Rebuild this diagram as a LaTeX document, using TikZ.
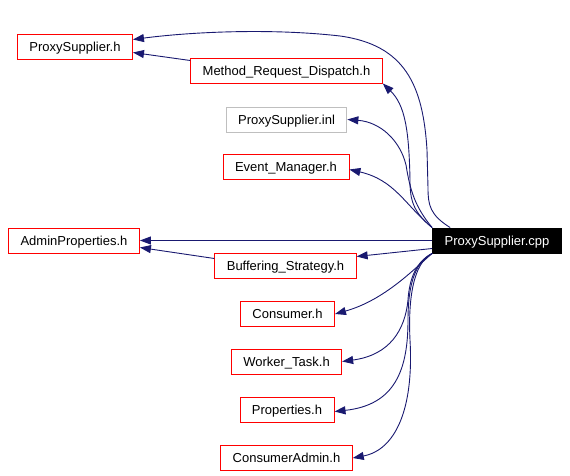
\documentclass[tikz,border=0pt]{standalone}
\usepackage{fontspec}
\setmainfont{Liberation Sans}
\usepackage{tikz}
\usetikzlibrary{shapes,arrows.meta,positioning}

\definecolor{incnavy}{HTML}{191970}
\definecolor{boxred}{HTML}{FF0000}
\definecolor{boxgray}{HTML}{BFBFBF}

\begin{document}
\begin{tikzpicture}[x=1pt,y=-1pt,
    file/.style={draw=boxred,line width=.9pt,inner xsep=12pt,inner ysep=0pt,minimum height=25pt,
        text height=9.3pt,text depth=0pt,font=\fontsize{13}{15}\selectfont},
    incl/.style={-{Triangle[length=11pt,width=8pt]},incnavy,line width=.9pt}]
    
    \useasboundingbox (0,0) rectangle (570,476);
    
    \node[file] (psh) at (75,46.5) {ProxySupplier.h};
    \node[file] (mrd) at (286.5,70.5) {Method\_Request\_Dispatch.h};
    \node[file,draw=boxgray] (inl) at (286.5,119.5) {ProxySupplier.inl};
    \node[file] (evm) at (286,166.5) {Event\_Manager.h};
    \node[file] (adm) at (74,240.5) {AdminProperties.h};
    \node[file,draw=black,fill=black,text=white] (cpp) at (497,240.5) {ProxySupplier.cpp};
    \node[file] (bfs) at (285.5,265.5) {Buffering\_Strategy.h};
    \node[file] (csm) at (287.5,314) {Consumer.h};
    \node[file] (wrk) at (286.5,361.5) {Worker\_Task.h};
    \node[file] (prp) at (287,409.5) {Properties.h};
    \node[file] (cad) at (286.5,458) {ConsumerAdmin.h};
    
    \draw[incl] ([xshift=18pt]cpp.north west) .. controls (430,215) and (428,205) .. (428,188)
        -- (427,150) .. controls (423,85) and (405,45) .. (340,36)
        .. controls (270,28) and (190,32) .. ([yshift=7pt]psh.east);
    \draw[incl] ([yshift=10pt]mrd.west) -- ([yshift=-6pt]psh.east);
    \draw[incl] (cpp.north west) .. controls (413,212) and (410,200) .. (410,180)
        .. controls (409,130) and (405,105) .. (mrd.south east);
    \draw[incl] (cpp.north west) .. controls (415,207) and (410,190) .. (406,165)
        .. controls (400,140) and (380,122) .. (inl.east);
    \draw[incl] (cpp.north west) .. controls (405,205) and (395,180) .. ([yshift=-3pt]evm.east);
    
    \draw[incl] (cpp.west) -- (adm.east);
    \draw[incl] ([yshift=-8pt]cpp.west) -- ([yshift=9pt]bfs.east);
    \draw[incl] ([yshift=7pt]bfs.west) -- ([yshift=-7pt]adm.east);
    
    \draw[incl] (cpp.south west) .. controls (415,268) and (385,300) .. (csm.east);
    \draw[incl] (cpp.south west) .. controls (413,263) and (409,285) .. (408,300)
        .. controls (405,330) and (390,355) .. (wrk.east);
    \draw[incl] (cpp.south west) .. controls (413,263) and (408,290) .. (408,320)
        .. controls (408,370) and (395,405) .. ([yshift=-2pt]prp.east);
    \draw[incl] (cpp.south west) .. controls (413,263) and (408,300) .. (410,340)
        .. controls (414,410) and (395,450) .. (cad.east);
\end{tikzpicture}
\end{document}
